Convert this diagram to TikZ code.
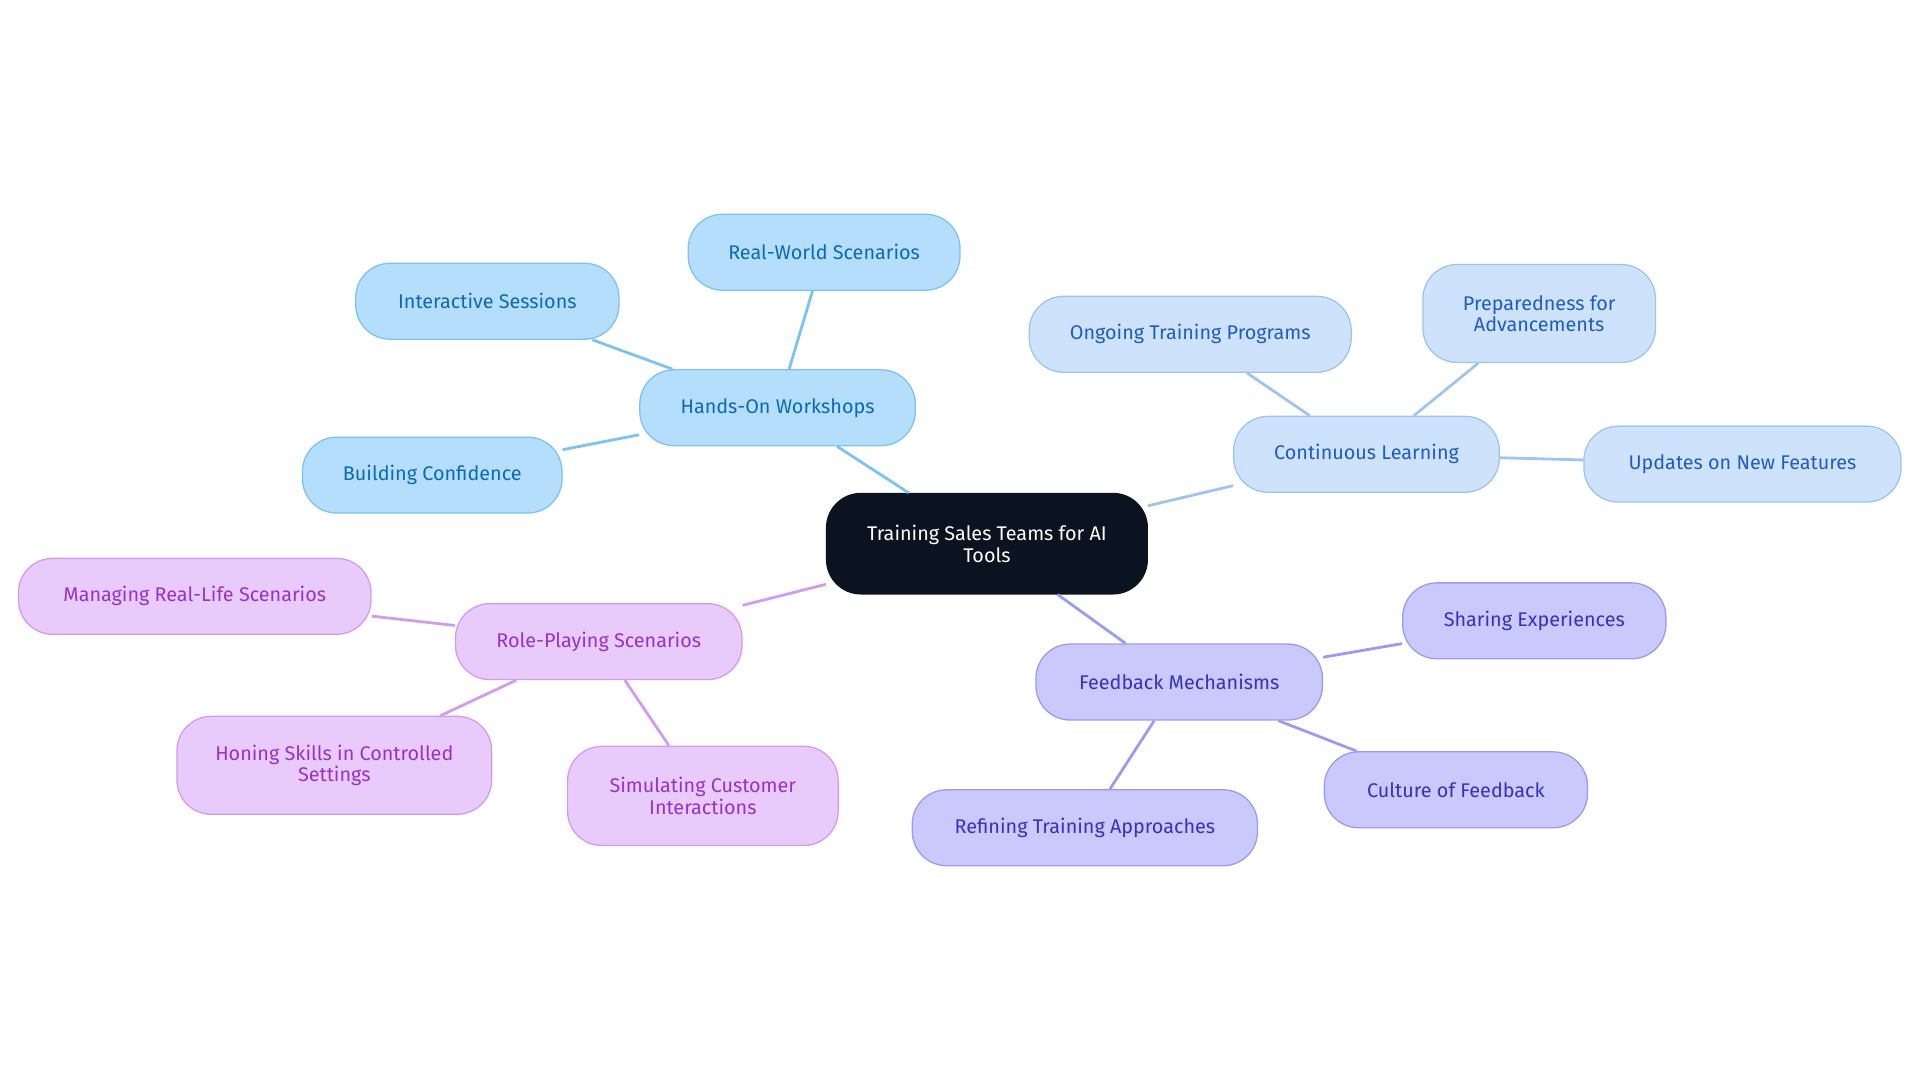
\documentclass[tikz,border=0pt]{standalone}
\usepackage{fontspec}
\setmainfont{Fira Sans}
\begin{document}
\begin{tikzpicture}[x=0.02cm,y=-0.02cm,
  box/.style={draw,rounded corners=0.56cm,line width=0.6pt,align=center,inner sep=0pt,
    minimum height=1.24cm,font=\fontsize{9.2pt}{10pt}\selectfont},
  bb/.style={box,fill=bbF,draw=bbD,text=bbT},
  cl/.style={box,fill=clF,draw=clD,text=clT},
  fb/.style={box,fill=fbF,draw=fbD,text=fbT},
  rp/.style={box,fill=rpF,draw=rpD,text=rpT},
  eb/.style={draw=bbD,line width=1.3pt},
  ec/.style={draw=clD,line width=1.3pt},
  ef/.style={draw=fbD,line width=1.3pt},
  er/.style={draw=rpD,line width=1.3pt}]
\definecolor{bbF}{HTML}{B5DEFC}\definecolor{bbD}{HTML}{7CC2F3}\definecolor{bbT}{HTML}{0A6AB8}
\definecolor{clF}{HTML}{CFE2FB}\definecolor{clD}{HTML}{9EC4F0}\definecolor{clT}{HTML}{1E5CC4}
\definecolor{fbF}{HTML}{C9C9FB}\definecolor{fbD}{HTML}{9B9BF0}\definecolor{fbT}{HTML}{3631BF}
\definecolor{rpF}{HTML}{E9CBFB}\definecolor{rpD}{HTML}{CF9CF0}\definecolor{rpT}{HTML}{9831CC}
\definecolor{rootF}{HTML}{0B1320}
\useasboundingbox (0,0) rectangle (1568,884);
\node[box,fill=rootF,draw=rootF,text=white,minimum width=5.24cm,minimum height=1.64cm] (root) at (806,444) {Training Sales Teams for AI\\Tools};
\node[bb,minimum width=4.5cm] (how) at (635,333) {Hands-On Workshops};
\node[bb,minimum width=4.44cm] (rw) at (673,206) {Real-World Scenarios};
\node[bb,minimum width=4.3cm] (is) at (398,246) {Interactive Sessions};
\node[bb,minimum width=4.24cm] (bc) at (353,388) {Building Confidence};
\node[cl,minimum width=4.34cm] (cln) at (1116,371) {Continuous Learning};
\node[cl,minimum width=5.26cm] (og) at (972,273) {Ongoing Training Programs};
\node[cl,minimum width=3.8cm,minimum height=1.6cm] (pa) at (1257,256) {Preparedness for\\Advancements};
\node[cl,minimum width=5.18cm] (up) at (1423,379) {Updates on New Features};
\node[fb,minimum width=4.68cm] (fm) at (963,557) {Feedback Mechanisms};
\node[fb,minimum width=4.3cm] (se) at (1253,507) {Sharing Experiences};
\node[fb,minimum width=4.3cm] (cf) at (1189,645) {Culture of Feedback};
\node[fb,minimum width=5.64cm] (rt) at (886,676) {Refining Training Approaches};
\node[rp,minimum width=4.68cm] (rps) at (489,524) {Role-Playing Scenarios};
\node[rp,minimum width=5.76cm] (mr) at (159,487) {Managing Real-Life Scenarios};
\node[rp,minimum width=5.14cm,minimum height=1.6cm] (hs) at (273,625) {Honing Skills in Controlled\\Settings};
\node[rp,minimum width=4.42cm,minimum height=1.62cm] (sc) at (574,650) {Simulating Customer\\Interactions};
\begin{scope}[on background layer/.try]
\end{scope}
\pgfsetlayers{main}
\begin{pgfonlayer}{main}\end{pgfonlayer}
\path[eb] (root) -- (how) (how) -- (rw) (how) -- (is) (how) -- (bc);
\path[ec] (root) -- (cln) (cln) -- (og) (cln) -- (pa) (cln) -- (up);
\path[ef] (root) -- (fm) (fm) -- (se) (fm) -- (cf) (fm) -- (rt);
\path[er] (root) -- (rps) (rps) -- (mr) (rps) -- (hs) (rps) -- (sc);
\end{tikzpicture}
\end{document}
